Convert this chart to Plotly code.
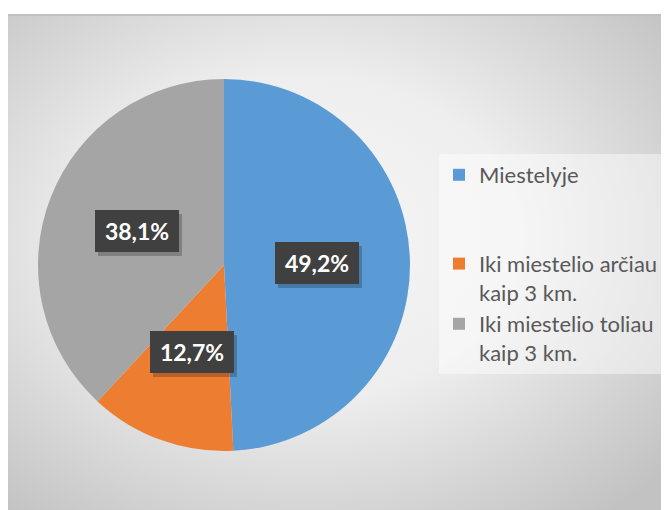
import base64
import math
import plotly.graph_objects as go

# ---- data ----
labels = ["Miestelyje<br> <br> ", "Iki miestelio arčiau<br>kaip 3 km.", "Iki miestelio toliau<br>kaip 3 km."]
values = [49.2, 12.7, 38.1]
value_labels = ["49,2%", "12,7%", "38,1%"]
colors = ["#5B9BD5", "#ED7D31", "#A5A5A5"]

# ---- geometry (screen pixels; page body has an 8px margin) ----
OFF = 8
SW, SH = 669, 510
W, H = SW - OFF, SH - OFF
CX, CY, R = 224, 265, 186


def px2x(px):
    return (px - OFF) / W


def py2y(py):
    return 1 - (py - OFF) / H


fig = go.Figure()
fig.add_trace(go.Pie(
    labels=labels,
    values=values,
    sort=False,
    direction="clockwise",
    rotation=0,
    textinfo="none",
    marker=dict(colors=colors, line=dict(width=0)),
    domain=dict(x=[px2x(CX - R), px2x(CX + R)], y=[py2y(CY + R), py2y(CY - R)]),
    hoverinfo="label+percent",
))

# data labels placed at half radius along each slice's mid-angle
total = sum(values)
cum = 0.0
annotations = []
for v, t in zip(values, value_labels):
    mid = (cum + v / 2) / total * 2 * math.pi
    cum += v
    px = CX + 0.5 * R * math.sin(mid)
    py = CY - 0.5 * R * math.cos(mid)
    common = dict(x=px2x(px), y=py2y(py), xref="paper", yref="paper", showarrow=False,
                  width=84, height=42, borderpad=0, borderwidth=0,
                  xanchor="center", yanchor="middle")
    annotations.append(dict(text=" ", font=dict(family="Lato", size=23, color="rgba(0,0,0,0)"),
                            bgcolor="rgba(0,0,0,0.22)", xshift=3, yshift=-4, **common))
    annotations.append(dict(text="<b>" + t + "</b>", font=dict(family="Lato", size=23, color="white"),
                            bgcolor="#404040", **common))

AX0, AY0 = OFF, 14
svg = f'''<svg xmlns="http://www.w3.org/2000/svg" width="{SW-AX0}" height="{SH-AY0}" preserveAspectRatio="none" viewBox="0 0 100 100">
<defs><radialGradient id="g" cx="0.45" cy="0.45" r="0.72">
<stop offset="0" stop-color="#f6f6f6"/><stop offset="0.45" stop-color="#eeeeee"/><stop offset="1" stop-color="#c2c2c2"/>
</radialGradient></defs>
<rect x="0" y="0" width="100" height="100" fill="url(#g)"/>
<rect x="0" y="0" width="100" height="0.4" fill="#c0c0c0"/>
</svg>'''
src = "data:image/svg+xml;base64," + base64.b64encode(svg.encode()).decode()

fig.update_layout(
    width=W, height=H,
    margin=dict(l=0, r=0, t=0, b=0),
    paper_bgcolor="white",
    plot_bgcolor="white",
    images=[dict(source=src, xref="paper", yref="paper", x=0, y=py2y(AY0),
                 sizex=1, sizey=py2y(AY0), xanchor="left", yanchor="top",
                 sizing="stretch", layer="below")],
    annotations=annotations,
    showlegend=True,
    legend=dict(x=px2x(439), y=py2y(154), xanchor="left", yanchor="top",
                bgcolor="rgba(255,255,255,0.45)", font=dict(family="Lato", size=22, color="#595959"),
                valign="top", traceorder="normal"),
    font=dict(family="Lato"),
)

fig.write_html("out.html")
